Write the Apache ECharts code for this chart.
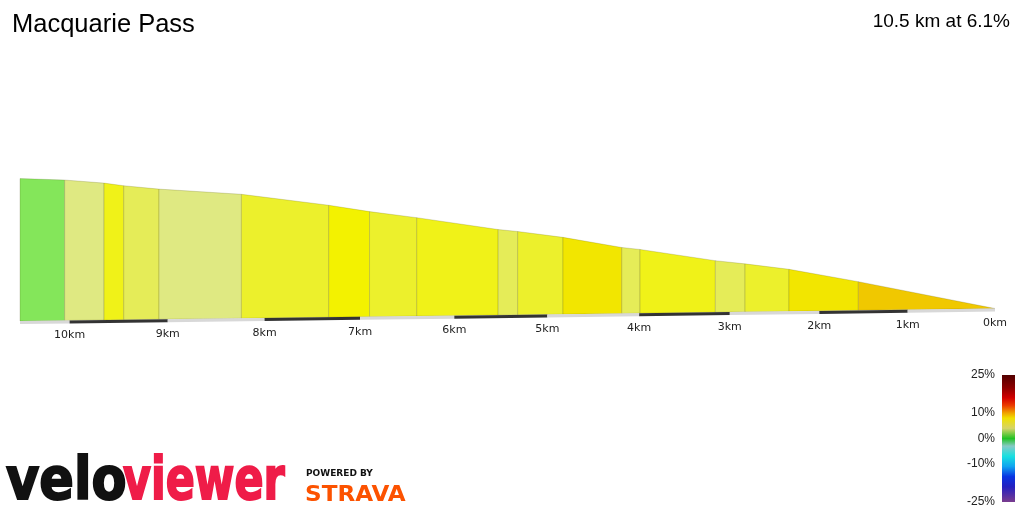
<!DOCTYPE html>
<html>
<head>
<meta charset="utf-8">
<title>Macquarie Pass</title>
<script src="https://cdn.jsdelivr.net/npm/echarts@6/dist/echarts.min.js"></script>
<style>
  html, body { margin: 0; padding: 0; background: #fff; }
  #profile { width: 1024px; height: 512px; }
</style>
</head>
<body>
<div id="profile"></div>
<script>
// km mark of every gradient change, left to right
const segmentKm = [10.5, 10.05, 9.65, 9.45, 9.09, 8.24, 7.33, 6.9, 6.4, 5.53, 5.32, 4.83, 4.19, 3.99, 3.16, 2.83, 2.34, 1.56, 0]
// height (m) above the foot at each of those marks
const elevationM = [641, 632, 616, 603, 586, 558, 504, 473, 443, 385, 375, 346, 297, 287, 232, 216, 189, 129, 0]
// ground ruler marks and the km labels under it
const rulerKm = [10.5, 10, 9, 8, 7, 6, 5, 4, 3, 2, 1, 0]
const kmLabels = [10, 9, 8, 7, 6, 5, 4, 3, 2, 1, 0]
// gradient colour legend
const legendTicks = [-25, -10, 0, 10, 25]
const legendGrades = [25, 20, 16, 13, 10, 8, 4, 0, -3, -7, -11, -15, -19, -25]
const legendColors = ['#520000', '#8c0000', '#d20000', '#ec3c00', '#f0a400', '#f0e000', '#d6d468', '#22c224',
  '#86cac6', '#18e0e0', '#10a4f0', '#0834e2', '#2420c0', '#7a3c8e']

// fake 3D: log scale on (VIEW_KM - km) gives the perspective squeeze,
// GROUND_TILT lifts the far end of the ground line (m per km)
const VIEW_KM = 82
const GROUND_TILT = 5.36
const CLIMB_KM = 10.5
function ground(km) {
  return GROUND_TILT * (CLIMB_KM - km)
}

const segments = []
for (let i = 0; i < segmentKm.length - 1; i++) {
  const d0 = segmentKm[i]
  const d1 = segmentKm[i + 1]
  const grade = (elevationM[i] - elevationM[i + 1]) / ((d0 - d1) * 1000) * 100
  segments.push([VIEW_KM - d0, VIEW_KM - d1, elevationM[i], elevationM[i + 1], +grade.toFixed(2), d0, d1])
}

const rulerData = []
for (let i = 0; i < rulerKm.length - 1; i++) {
  rulerData.push([VIEW_KM - rulerKm[i], VIEW_KM - rulerKm[i + 1], rulerKm[i], rulerKm[i + 1]])
}

const labelData = kmLabels.map(k => [VIEW_KM - k, k])

const legendStops = legendGrades.map((g, i) => ({
  offset: (25 - g) / 50,
  color: legendColors[i]
}))

const chart = echarts.init(document.getElementById('profile'))

const option = {
  animation: false,
  title: [
    {
      text: 'Macquarie Pass',
      left: 12,
      top: 12,
      padding: 0,
      textStyle: { fontFamily: 'Liberation Sans', fontSize: 25.5, fontWeight: 'normal', color: '#000' }
    },
    {
      text: '10.5 km at 6.1%',
      right: 14,
      top: 12,
      padding: 0,
      textStyle: { fontFamily: 'Liberation Sans', fontSize: 19, fontWeight: 'normal', color: '#000' }
    }
  ],
  grid: [
    { left: 20, right: 29, top: 161, bottom: 191 },
    { left: 1002, top: 375, width: 13, height: 127 }
  ],
  xAxis: [
    { type: 'log', gridIndex: 0, min: VIEW_KM - CLIMB_KM, max: VIEW_KM, show: false },
    { type: 'value', gridIndex: 1, min: 0, max: 1, show: false }
  ],
  yAxis: [
    { type: 'value', gridIndex: 0, min: 0, max: 720, show: false },
    {
      type: 'value',
      gridIndex: 1,
      min: -25,
      max: 25,
      axisLine: { show: false },
      axisTick: { show: false },
      splitLine: { show: false },
      axisLabel: {
        customValues: legendTicks,
        formatter: '{value}%',
        margin: 7,
        fontFamily: 'Liberation Sans',
        fontSize: 12,
        color: '#222'
      }
    }
  ],
  visualMap: {
    type: 'piecewise',
    show: false,
    seriesIndex: 0,
    dimension: 4,
    pieces: [
      { lt: 2.5, color: '#84e65a' },
      { gte: 2.5, lt: 4.2, color: '#dfe982' },
      { gte: 4.2, lt: 5.2, color: '#e5ec58' },
      { gte: 5.2, lt: 6.2, color: '#ecf02c' },
      { gte: 6.2, lt: 7.0, color: '#f0f218' },
      { gte: 7.0, lt: 7.4, color: '#f3f200' },
      { gte: 7.4, lt: 8.0, color: '#f2e600' },
      { gte: 8.0, color: '#f0c800' }
    ]
  },
  series: [
    {
      // coloured gradient slices
      type: 'custom',
      xAxisIndex: 0,
      yAxisIndex: 0,
      data: segments,
      encode: { x: [0, 1], y: [2, 3] },
      renderItem: function(params, api) {
        const d0 = api.value(5)
        const d1 = api.value(6)
        const g0 = api.coord([VIEW_KM - d0, ground(d0)])
        const g1 = api.coord([VIEW_KM - d1, ground(d1)])
        const t0 = api.coord([VIEW_KM - d0, api.value(2) + ground(d0)])
        const t1 = api.coord([VIEW_KM - d1, api.value(3) + ground(d1)])
        return {
          type: 'polygon',
          shape: { points: [g0, t0, t1, g1] },
          style: { fill: api.visual('color'), stroke: 'rgba(60,60,0,0.18)', lineWidth: 1 }
        }
      }
    },
    {
      // black / grey km ruler under the profile
      type: 'custom',
      xAxisIndex: 0,
      yAxisIndex: 0,
      data: rulerData,
      encode: { x: [0, 1] },
      renderItem: function(params, api) {
        const d0 = api.value(2)
        const d1 = api.value(3)
        const g0 = api.coord([VIEW_KM - d0, ground(d0)])
        const g1 = api.coord([VIEW_KM - d1, ground(d1)])
        const dark = Math.floor(d1) % 2 === 1
        return {
          type: 'polygon',
          shape: { points: [g0, g1, [g1[0], g1[1] + 3], [g0[0], g0[1] + 3]] },
          style: { fill: dark ? '#333' : '#d8d8d8' }
        }
      }
    },
    {
      type: 'custom',
      xAxisIndex: 0,
      yAxisIndex: 0,
      data: labelData,
      encode: { x: 0 },
      renderItem: function(params, api) {
        const km = api.value(1)
        const p = api.coord([VIEW_KM - km, ground(km)])
        return {
          type: 'text',
          x: p[0],
          y: p[1] + 15,
          style: {
            text: km + 'km',
            textAlign: 'center',
            textVerticalAlign: 'middle',
            font: '11px "DejaVu Sans"',
            fill: '#222'
          }
        }
      }
    },
    {
      // gradient legend bar
      type: 'custom',
      xAxisIndex: 1,
      yAxisIndex: 1,
      data: [[0, 25, 1, -25]],
      renderItem: function(params, api) {
        const a = api.coord([api.value(0), api.value(1)])
        const b = api.coord([api.value(2), api.value(3)])
        return {
          type: 'rect',
          shape: { x: a[0], y: a[1], width: b[0] - a[0], height: b[1] - a[1] },
          style: { fill: new echarts.graphic.LinearGradient(0, 0, 0, 1, legendStops) }
        }
      }
    }
  ],
  graphic: [
    {
      type: 'text',
      x: 6,
      y: 484,
      scaleX: 0.88,
      style: {
        text: 'velo', x: 0, y: 0, font: 'bold 58px "DejaVu Sans"', fill: '#111',
        stroke: '#111', lineWidth: 2, textVerticalAlign: 'middle'
      }
    },
    {
      type: 'text',
      x: 123,
      y: 484,
      scaleX: 0.74,
      style: {
        text: 'viewer', x: 0, y: 0, font: 'bold 58px "DejaVu Sans"', fill: '#ef1c48',
        stroke: '#ef1c48', lineWidth: 2, textVerticalAlign: 'middle'
      }
    },
    {
      type: 'text',
      x: 306,
      y: 474,
      style: { text: 'POWERED BY', x: 0, y: 0, font: 'bold 9px "DejaVu Sans"', fill: '#111', textVerticalAlign: 'middle' }
    },
    {
      type: 'text',
      x: 305,
      y: 495,
      scaleX: 1.05,
      style: { text: 'STRAVA', x: 0, y: 0, font: 'bold 22px "DejaVu Sans"', fill: '#fc5200', textVerticalAlign: 'middle' }
    }
  ]
}

chart.setOption(option)
</script>
</body>
</html>
